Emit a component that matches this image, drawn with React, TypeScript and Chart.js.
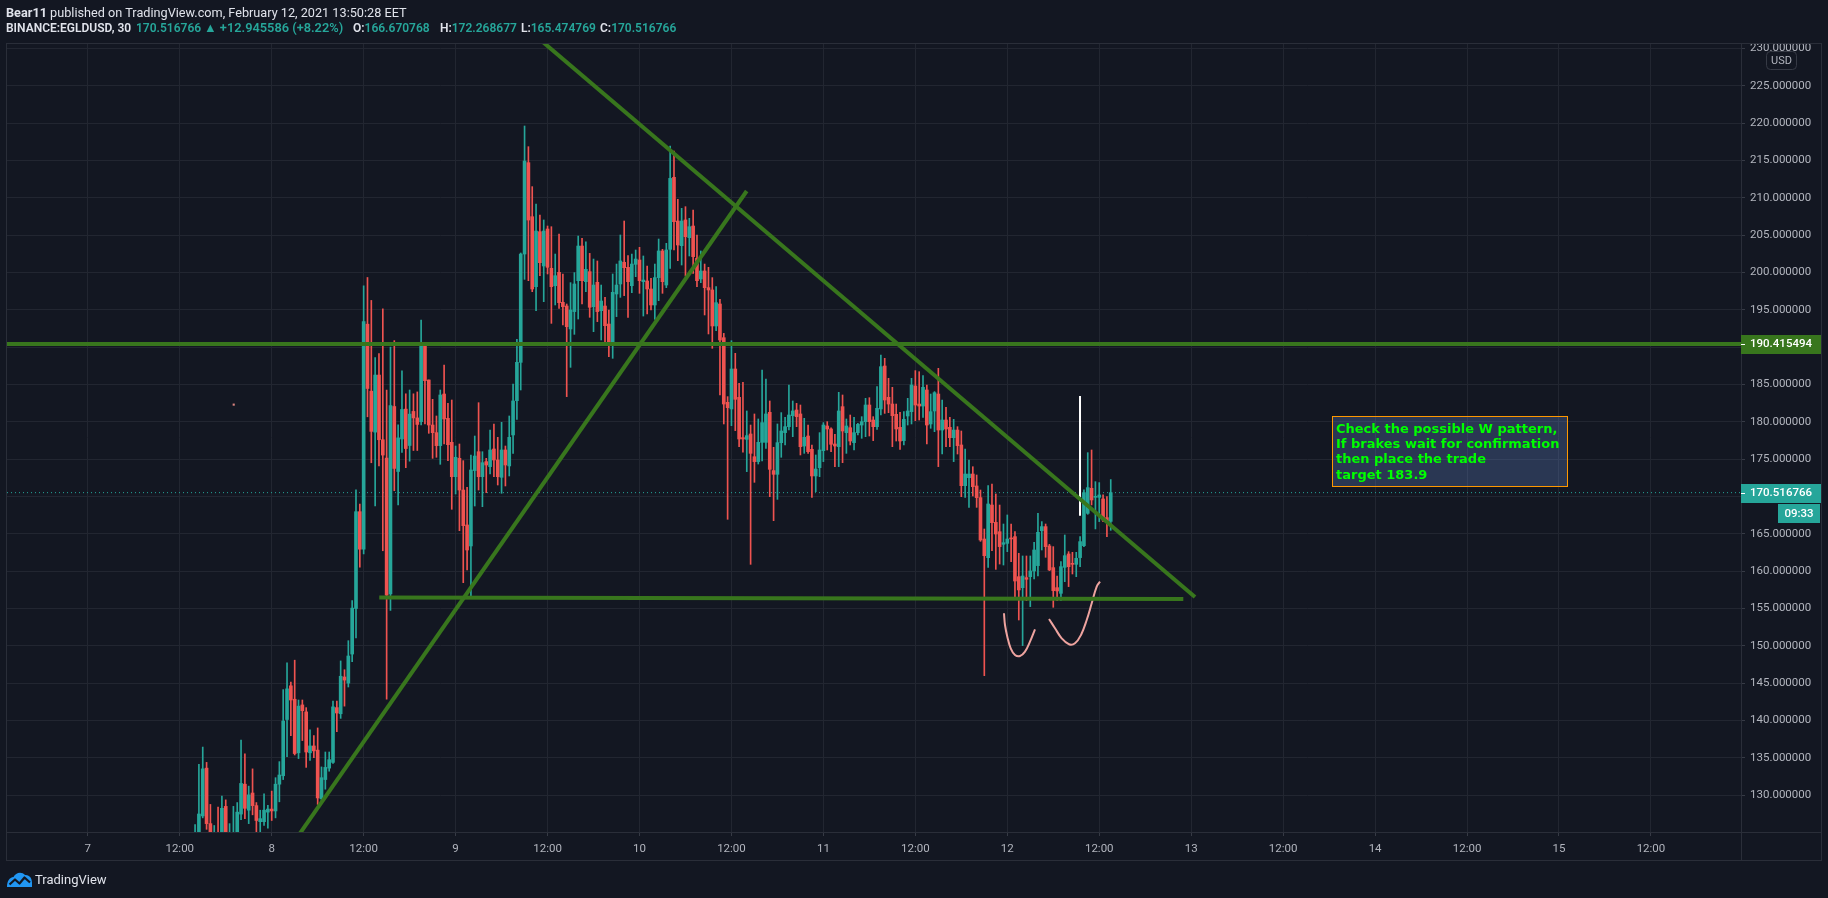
import React, { useEffect, useRef } from 'react';
import { Chart, registerables } from 'chart.js';

Chart.register(...registerables);

// ---- data ----
const FIRST_CANDLE_DAY = 7 + 14 / 24; // Feb 7, 14:00
const CANDLE_DAYS = 1 / 48; // 30 minutes

const opens = [
  122.0, 124.0, 127.24, 133.64, 126.21, 123.5, 124.7, 124.5, 128.52, 123.8,
  124.0, 124.5, 127.49, 131.49, 128.01, 130.31, 128.62, 126.47, 126.47, 127.75,
  128.16, 127.91, 131.49, 132.62, 140.15, 144.66, 142.86, 135.69, 142.10, 141.17,
  135.69, 136.61, 136.05, 129.54, 132.11, 133.64, 134.41, 141.74, 140.92, 145.84,
  145.02, 148.91, 155.01, 167.97, 162.95, 193.07, 184.10, 178.62, 186.26, 177.60,
  175.14, 156.95, 182.05, 173.35, 177.70, 181.70, 176.83, 181.39, 180.52, 180.02,
  190.28, 185.60, 179.57, 178.55, 176.81, 183.72, 180.47, 177.25, 172.66, 175.11,
  170.87, 166.19, 163.38, 173.47, 176.00, 172.66, 174.67, 174.00, 176.36, 174.89,
  172.57, 176.23, 174.09, 178.24, 182.83, 187.96, 202.46, 214.69, 207.46, 198.09,
  205.45, 200.86, 205.81, 200.55, 198.22, 200.01, 196.00, 195.50, 192.43, 194.75,
  198.89, 203.53, 198.76, 200.10, 195.41, 198.67, 194.88, 195.50, 193.09, 190.64,
  197.11, 198.45, 201.35, 200.68, 198.22, 201.08, 201.66, 198.76, 198.85, 197.78,
  195.64, 199.30, 202.87, 198.31, 203.09, 212.73, 206.88, 203.58, 207.02, 204.65,
  206.21, 201.88, 199.12, 200.19, 197.96, 197.65, 192.83, 195.77, 191.26, 182.61,
  181.72, 187.07, 183.28, 177.88, 177.65, 178.37, 175.33, 174.67, 177.25, 177.25,
  181.27, 173.47, 172.97, 177.21, 178.55, 179.35, 180.82, 181.58, 181.05, 176.76,
  178.10, 176.32, 172.75, 173.86, 176.14, 179.44, 179.04, 177.03, 176.67, 182.03,
  178.55, 179.21, 177.21, 178.55, 179.57, 180.02, 182.25, 180.24, 179.35, 181.72,
  187.47, 183.28, 182.38, 181.00, 179.26, 177.48, 180.78, 181.36, 184.79, 182.38,
  182.11, 184.26, 179.71, 181.45, 183.72, 178.90, 180.24, 179.26, 177.88, 178.90,
  176.90, 171.45, 172.52, 173.01, 171.41, 169.85, 164.31, 161.81, 168.86, 166.54,
  165.29, 163.60, 163.73, 164.45, 164.63, 159.27, 157.80, 159.14, 159.27, 160.03,
  160.75, 165.43, 165.97, 163.38, 160.48, 157.80, 157.04, 160.52, 162.31, 161.06,
  160.92, 161.82, 163.42, 167.75, 171.10, 169.89, 169.89, 169.67, 167.17, 166.670768,
];
const highs = [
  126.1, 134.15, 136.46, 134.41, 128.78, 125.96, 128.42, 129.90, 129.39, 126.21,
  128.52, 129.03, 137.38, 135.54, 131.23, 133.54, 129.03, 128.01, 130.21, 128.67,
  130.57, 132.36, 134.51, 144.15, 147.73, 145.17, 148.09, 142.76, 142.76, 141.74,
  138.77, 138.00, 139.02, 133.80, 135.80, 135.80, 142.61, 142.61, 147.99, 146.81,
  150.70, 156.08, 170.89, 168.99, 198.19, 199.32, 196.25, 188.61, 189.12, 195.12,
  184.26, 189.99, 190.87, 179.60, 186.82, 183.75, 184.26, 183.75, 184.00, 193.63,
  190.51, 185.60, 183.01, 180.78, 184.26, 187.61, 182.47, 182.92, 176.76, 177.03,
  174.80, 171.23, 175.56, 178.10, 182.56, 176.00, 175.11, 178.91, 179.71, 177.92,
  179.93, 176.76, 180.78, 185.06, 191.04, 202.60, 219.60, 216.83, 211.48, 209.16,
  207.68, 207.02, 206.21, 206.12, 202.46, 205.14, 199.79, 195.77, 198.63, 199.97,
  204.87, 204.56, 204.11, 202.55, 201.79, 201.53, 198.31, 196.66, 194.97, 199.79,
  201.12, 205.01, 206.88, 202.24, 202.46, 203.00, 203.36, 202.20, 200.86, 199.21,
  201.12, 204.47, 203.09, 203.89, 216.92, 216.25, 209.78, 208.58, 208.80, 207.24,
  208.35, 205.01, 202.87, 201.12, 200.68, 199.30, 198.09, 196.40, 191.84, 183.37,
  190.86, 189.17, 185.15, 185.28, 181.45, 179.57, 181.05, 180.38, 186.94, 185.73,
  182.79, 176.59, 179.71, 181.23, 180.60, 184.93, 182.79, 182.47, 182.25, 180.47,
  179.57, 176.90, 175.56, 178.55, 179.89, 180.02, 179.21, 178.33, 183.95, 183.59,
  180.38, 180.91, 180.60, 179.80, 180.69, 183.14, 183.23, 180.69, 184.70, 188.94,
  188.50, 185.82, 184.62, 182.38, 181.27, 181.36, 183.14, 185.82, 186.85, 186.71,
  186.18, 184.93, 183.72, 184.04, 187.16, 182.92, 181.94, 180.60, 180.33, 179.35,
  178.77, 176.36, 174.89, 173.99, 172.88, 170.87, 165.65, 171.45, 171.67, 170.34,
  168.86, 166.32, 167.53, 166.32, 165.30, 162.40, 162.04, 162.04, 162.04, 163.87,
  167.75, 166.64, 166.32, 163.60, 163.29, 159.36, 161.28, 164.85, 162.62, 162.53,
  162.53, 164.63, 170.88, 175.87, 176.23, 171.99, 171.86, 170.21, 169.98, 172.268677,
];
const lows = [
  121.5, 123.5, 126.98, 125.45, 123.8, 122.8, 122.5, 124.0, 124.0, 123.0,
  123.5, 124.0, 126.73, 126.88, 126.21, 127.39, 124.5, 124.8, 125.96, 125.60,
  126.63, 126.98, 129.13, 132.11, 135.18, 138.00, 135.40, 134.92, 137.33, 133.74,
  134.67, 135.03, 128.78, 129.13, 130.82, 133.23, 134.26, 138.51, 140.30, 141.94,
  144.50, 147.88, 151.06, 160.54, 162.33, 180.67, 174.52, 168.74, 174.11, 162.74,
  142.86, 154.75, 170.78, 168.89, 175.91, 173.86, 174.73, 176.16, 176.16, 179.57,
  179.71, 178.46, 175.11, 175.25, 174.31, 177.03, 174.80, 168.29, 170.34, 165.43,
  158.47, 160.16, 156.60, 168.73, 170.87, 168.64, 170.52, 173.01, 172.66, 171.54,
  170.43, 171.41, 172.75, 175.78, 180.33, 184.26, 199.07, 198.89, 197.42, 194.88,
  199.56, 196.08, 199.79, 193.18, 195.64, 195.19, 192.96, 183.37, 187.29, 191.71,
  193.76, 195.77, 197.42, 193.99, 192.07, 193.41, 190.95, 190.64, 188.72, 188.50,
  194.08, 196.66, 196.89, 193.99, 197.29, 199.43, 197.20, 194.16, 194.43, 194.97,
  193.72, 196.22, 197.20, 197.96, 200.55, 203.00, 201.57, 200.99, 199.52, 202.20,
  199.88, 198.09, 198.63, 194.30, 191.76, 189.84, 192.20, 183.59, 179.71, 166.95,
  179.48, 178.82, 176.67, 175.92, 173.33, 160.92, 171.90, 174.35, 174.76, 176.45,
  169.98, 166.77, 169.62, 175.25, 176.90, 178.91, 178.01, 179.35, 175.56, 175.78,
  175.78, 169.89, 170.65, 172.66, 174.67, 176.23, 176.00, 174.00, 174.00, 174.53,
  175.78, 176.90, 176.23, 178.24, 177.79, 178.01, 178.10, 177.48, 178.99, 180.91,
  181.13, 181.22, 176.67, 177.43, 176.32, 176.90, 179.57, 179.71, 180.15, 180.24,
  180.60, 177.03, 179.13, 178.68, 174.00, 175.69, 176.67, 176.67, 174.67, 175.69,
  169.98, 169.89, 168.55, 170.07, 168.55, 164.00, 146.02, 160.52, 162.75, 160.25,
  160.96, 160.83, 162.62, 161.28, 156.51, 153.47, 150.04, 156.06, 155.26, 158.96,
  159.36, 162.84, 161.86, 160.08, 155.17, 156.06, 156.06, 158.60, 157.94, 159.63,
  159.27, 160.61, 163.29, 167.62, 168.87, 165.66, 166.64, 166.64, 164.63, 165.474769,
];
const closes = [
  124.5, 127.5, 133.54, 126.21, 124.5, 124.8, 122.8, 128.26, 124.6, 124.8,
  124.9, 127.75, 131.59, 128.26, 130.06, 128.62, 126.63, 126.88, 128.01, 128.16,
  127.91, 131.49, 132.72, 139.94, 144.25, 142.76, 135.59, 141.94, 141.33, 135.80,
  136.61, 135.95, 129.65, 132.36, 133.74, 134.77, 141.84, 141.02, 145.94, 145.43,
  148.65, 155.06, 167.97, 162.95, 193.43, 184.46, 178.72, 186.26, 177.60, 175.55,
  156.80, 182.16, 173.76, 177.85, 181.65, 176.42, 181.03, 180.52, 179.65, 190.28,
  185.51, 179.57, 178.55, 176.81, 183.59, 180.38, 176.94, 172.66, 175.25, 170.87,
  166.10, 162.84, 173.55, 175.42, 172.66, 174.53, 174.22, 176.23, 174.89, 172.66,
  176.23, 174.22, 177.92, 182.79, 187.96, 202.46, 214.91, 207.01, 197.78, 205.54,
  201.30, 205.54, 200.68, 198.09, 199.56, 195.95, 195.41, 192.74, 194.97, 198.45,
  203.53, 198.89, 200.41, 195.33, 198.31, 194.75, 196.17, 192.87, 190.64, 197.33,
  198.31, 201.53, 200.63, 198.76, 201.12, 201.79, 198.89, 198.98, 197.78, 195.64,
  199.30, 202.87, 198.76, 203.00, 212.59, 206.79, 203.67, 206.88, 204.78, 206.12,
  202.11, 198.89, 200.19, 197.96, 197.65, 192.83, 195.95, 190.95, 182.38, 181.89,
  187.07, 183.01, 177.70, 177.70, 178.15, 175.78, 174.67, 177.25, 179.89, 181.05,
  173.64, 172.97, 177.21, 178.77, 179.35, 180.91, 181.45, 180.69, 176.67, 177.92,
  176.00, 172.75, 173.68, 176.23, 179.57, 179.04, 176.99, 176.76, 181.45, 178.77,
  179.44, 177.43, 178.55, 179.66, 180.02, 182.25, 180.02, 179.35, 181.81, 187.38,
  182.92, 182.38, 180.82, 179.04, 177.43, 180.33, 181.45, 184.93, 182.25, 182.11,
  184.62, 179.57, 181.36, 183.90, 178.90, 180.24, 179.04, 177.88, 178.90, 176.81,
  171.45, 173.01, 173.01, 171.32, 169.85, 164.18, 162.08, 169.00, 166.50, 164.98,
  163.29, 163.82, 164.31, 164.32, 158.69, 157.49, 159.36, 158.92, 160.03, 162.84,
  165.21, 165.97, 163.29, 160.17, 157.40, 157.36, 160.61, 162.08, 160.61, 160.92,
  161.73, 163.96, 170.52, 171.19, 169.54, 169.98, 170.21, 166.86, 166.55, 170.516766,
];

const xTickValues = [7, 7.5, 8, 8.5, 9, 9.5, 10, 10.5, 11, 11.5, 12, 12.5, 13, 13.5, 14, 14.5, 15, 15.5];
const xTickLabels = ['7', '12:00', '8', '12:00', '9', '12:00', '10', '12:00', '11', '12:00', '12', '12:00', '13', '12:00', '14', '12:00', '15', '12:00'];
const yTickValues = [130, 135, 140, 145, 150, 155, 160, 165, 170, 175, 180, 185, 190, 195, 200, 205, 210, 215, 220, 225, 230];

const xRange = [6.5606, 15.9897];
const yRange = [125.09, 230.71];

const resistancePrice = 190.415494;
const lastPrice = 170.516766;
const countdownLabel = '09:33';
const currencyLabel = 'USD';

const fallingLineDays = [9.4046, 13.0207];
const fallingLinePrices = [232.31, 156.55];
const risingLineDays = [8.0995, 10.583];
const risingLinePrices = [122.99, 210.9];
const supportLineDays = [8.585, 12.957];
const supportLinePrices = [156.49, 156.28];
const markerLineDays = [12.3954, 12.3954];
const markerLinePrices = [183.46, 167.44];
const curveADays = [11.982, 11.9875, 12.0001, 12.0185, 12.0419, 12.0691, 12.0963, 12.1234, 12.1506];
const curveAPrices = [154.37, 152.8, 151.24, 149.68, 148.79, 148.65, 149.23, 150.57, 152.22];
const curveBDays = [12.2268, 12.2594, 12.2958, 12.3355, 12.3681, 12.4008, 12.4318, 12.459, 12.4862, 12.5041];
const curveBPrices = [153.61, 152.36, 151.02, 150.22, 150.35, 151.47, 153.47, 155.7, 157.94, 158.6];
const dotDays = [7.7934];
const dotPrices = [182.3];

const noteLines = ['Check the possible W pattern,', 'If brakes wait for confirmation', 'then place the trade', 'target 183.9'];
const noteFromDay = 13.767;
const noteFromPrice = 180.78;
const noteToDay = 15.045;
const noteToPrice = 171.4;

const headerAuthor = 'Bear11';
const headerPublished = ' published on TradingView.com, February 12, 2021 13:50:28 EET';
const headerSymbol = 'BINANCE:EGLDUSD, 30';
const headerChange = '▲ +12.945586 (+8.22%)';
const ohlcKeys = ['O:', 'H:', 'L:', 'C:'];

// ---- styles ----
const BG = '#131722';
const UP = '#26a69a';
const DOWN = '#ef5350';
const GREEN = '#38761d';
const PINK = '#eea39f';
const GRID = '#222631';
const BORDER = '#2a2e39';
const TEXT = '#b2b5be';

export default function App() {
  const canvasRef = useRef<HTMLCanvasElement>(null);

  useEffect(() => {
    const canvas = canvasRef.current;
    if (!canvas) return;
    document.body.style.margin = '0';
    document.body.style.background = BG;

    const times = opens.map((_, i) => FIRST_CANDLE_DAY + i * CANDLE_DAYS);
    const colors = opens.map((o, i) => (closes[i] >= o ? UP : DOWN));
    const pts = (xs: number[], ys: number[]) => xs.map((x, i) => ({ x, y: ys[i] }));

    const lineDs = (data: any, color: string, width: number, extra: any = {}) => ({
      type: 'line',
      data,
      borderColor: color,
      backgroundColor: color,
      borderWidth: width,
      pointRadius: 0,
      fill: false,
      clip: 0,
      order: 0,
      ...extra,
    });

    const overlay = {
      id: 'overlay',
      afterDatasetsDraw(chart: any) {
        const { ctx, scales } = chart;
        const x = scales.x;
        const y = scales.y;
        const l = Math.round(x.getPixelForValue(noteFromDay));
        const t = Math.round(y.getPixelForValue(noteFromPrice));
        const r = Math.round(x.getPixelForValue(noteToDay));
        const b = Math.round(y.getPixelForValue(noteToPrice));
        ctx.save();
        ctx.fillStyle = 'rgba(110,150,230,0.25)';
        ctx.fillRect(l, t, r - l, b - t);
        ctx.strokeStyle = '#ff9800';
        ctx.lineWidth = 1;
        ctx.strokeRect(l + 0.5, t + 0.5, r - l, b - t);
        ctx.font = 'bold 13px "DejaVu Sans"';
        ctx.fillStyle = '#00ff00';
        ctx.textBaseline = 'middle';
        ctx.textAlign = 'left';
        noteLines.forEach((line, i) => ctx.fillText(line, l + 4, t + 13.5 + i * 15.3));
        ctx.restore();
      },
      afterDraw(chart: any) {
        const { ctx, chartArea, scales, width } = chart;
        const y = scales.y;
        const W = width;
        ctx.save();
        ctx.strokeStyle = BORDER;
        ctx.lineWidth = 1;
        ctx.strokeRect(6.5, chartArea.top + 0.5, W - 13, 817);
        ctx.beginPath();
        ctx.moveTo(chartArea.right + 0.5, chartArea.top);
        ctx.lineTo(chartArea.right + 0.5, chartArea.top + 818);
        ctx.moveTo(6, chartArea.bottom + 0.5);
        ctx.lineTo(W - 6, chartArea.bottom + 0.5);
        ctx.stroke();

        const tagW = W - 7 - chartArea.right;
        const drawTag = (price: number, bg: string) => {
          const py = y.getPixelForValue(price);
          ctx.fillStyle = bg;
          ctx.fillRect(chartArea.right, Math.round(py) - 9, tagW, 19);
          ctx.fillStyle = '#ffffff';
          ctx.fillRect(chartArea.right, Math.round(py), 4, 1);
          ctx.font = '500 11.5px Roboto';
          ctx.textBaseline = 'middle';
          ctx.textAlign = 'left';
          ctx.fillText(price.toFixed(6), chartArea.right + 9, Math.round(py) + 0.5);
          return py;
        };
        drawTag(resistancePrice, GREEN);
        const lp = drawTag(lastPrice, UP);
        ctx.fillStyle = UP;
        ctx.fillRect(W - 50, Math.round(lp) + 11, 42, 19);
        ctx.fillStyle = '#ffffff';
        ctx.font = '500 11.5px Roboto';
        ctx.textAlign = 'center';
        ctx.fillText(countdownLabel, W - 29, Math.round(lp) + 21);
        const bx = chartArea.right + 25;
        const by = chartArea.top + 8;
        ctx.fillStyle = BG;
        ctx.strokeStyle = '#363a45';
        ctx.beginPath();
        ctx.roundRect(bx + 0.5, by + 0.5, 30, 18, 4);
        ctx.fill();
        ctx.stroke();
        ctx.fillStyle = TEXT;
        ctx.font = '11px Roboto';
        ctx.textAlign = 'center';
        ctx.fillText(currencyLabel, bx + 15.5, by + 10);
        ctx.restore();
      },
    };

    const chart = new Chart(canvas, {
      type: 'bar',
      data: {
        datasets: [
          lineDs(pts([xRange[0] - 1, xRange[1] + 1], [resistancePrice, resistancePrice]), GREEN, 4),
          lineDs(pts(fallingLineDays, fallingLinePrices), GREEN, 4),
          lineDs(pts(risingLineDays, risingLinePrices), GREEN, 4),
          lineDs(pts(supportLineDays, supportLinePrices), GREEN, 4),
          lineDs(pts(markerLineDays, markerLinePrices), '#ffffff', 2),
          lineDs(pts(curveADays, curveAPrices), PINK, 2, { tension: 0.4 }),
          lineDs(pts(curveBDays, curveBPrices), PINK, 2, { tension: 0.4 }),
          lineDs(pts(dotDays, dotPrices), '#d9837f', 0, { pointRadius: 1.5, pointStyle: 'rect', showLine: false }),
          {
            type: 'bar',
            data: times.map((t, i) => ({ x: t, y: [opens[i], closes[i]] })),
            backgroundColor: colors,
            barThickness: 3,
            minBarLength: 1,
            grouped: false,
            borderWidth: 0,
            order: 1,
          },
          {
            type: 'bar',
            data: times.map((t, i) => ({ x: t, y: [lows[i], highs[i]] })),
            backgroundColor: colors,
            barThickness: 1,
            grouped: false,
            borderWidth: 0,
            order: 2,
          },
          lineDs(pts([xRange[0], xRange[1]], [lastPrice, lastPrice]), UP, 1, { borderDash: [1, 3], order: 3 }),
        ] as any,
      },
      options: {
        responsive: false,
        animation: false,
        devicePixelRatio: 1,
        events: [],
        layout: { padding: { left: 7, right: 7, top: 43, bottom: 37 } },
        plugins: { legend: { display: false }, tooltip: { enabled: false } },
        scales: {
          x: {
            type: 'linear',
            min: xRange[0],
            max: xRange[1],
            offset: false,
            position: 'bottom',
            border: { display: false },
            grid: { color: GRID, offset: false, drawTicks: true, tickLength: 4, tickColor: '#363a45' },
            ticks: {
              autoSkip: false,
              maxRotation: 0,
              color: TEXT,
              padding: 6,
              font: { family: 'Roboto', size: 11.5 },
              callback: (_v: any, i: number) => xTickLabels[i],
            },
            afterBuildTicks: (axis: any) => {
              axis.ticks = xTickValues.map((v) => ({ value: v }));
            },
            afterFit: (axis: any) => {
              axis.height = 29;
            },
          },
          y: {
            type: 'linear',
            position: 'right',
            min: yRange[0],
            max: yRange[1],
            border: { display: false },
            grid: { color: GRID, drawTicks: true, tickLength: 4, tickColor: '#363a45' },
            ticks: {
              autoSkip: false,
              color: TEXT,
              padding: 5,
              font: { family: 'Roboto', size: 11.5 },
              callback: (v: any) => Number(v).toFixed(6),
            },
            afterBuildTicks: (axis: any) => {
              axis.ticks = yTickValues.map((v) => ({ value: v }));
            },
            afterFit: (axis: any) => {
              axis.width = 80;
            },
          },
        },
      } as any,
      plugins: [overlay],
    });
    return () => chart.destroy();
  }, []);

  const n = opens.length - 1;
  const teal = { color: UP };
  const ohlcValues = [opens[n], highs[n], lows[n], closes[n]];
  const ohlcLefts = [353, 440, 521, 600];
  const seg = (left: number): React.CSSProperties => ({ position: 'absolute', left, top: 0 });
  return (
    <div style={{ position: 'absolute', left: 0, top: 0, width: 1828, height: 898, background: BG, overflow: 'hidden' }}>
      <canvas ref={canvasRef} width={1828} height={898} style={{ position: 'absolute', left: 0, top: 0 }} />
      <div style={{ position: 'absolute', left: 6, top: 5, font: '12.7px Roboto', lineHeight: '16px', color: '#e0e3eb', whiteSpace: 'nowrap' }}>
        <b>{headerAuthor}</b>
        {headerPublished}
      </div>
      <div style={{ position: 'absolute', left: 0, top: 20, height: 16, width: 900, font: '600 12px Roboto', lineHeight: '16px', color: '#e0e3eb', whiteSpace: 'nowrap' }}>
        <span style={seg(6)}>{headerSymbol}</span>
        <span style={{ ...seg(136), ...teal }}>{closes[n].toFixed(6)}</span>
        <span style={{ ...seg(204), ...teal, fontSize: '12.8px' }}>{headerChange}</span>
        {ohlcKeys.map((k, i) => (
          <span key={k} style={seg(ohlcLefts[i])}>
            {k}
            <span style={teal}>{ohlcValues[i].toFixed(6)}</span>
          </span>
        ))}
      </div>
      <div style={{ position: 'absolute', left: 6, top: 871, display: 'flex', alignItems: 'center', gap: 2 }}>
        <svg width="27" height="17" viewBox="0 0 27 17">
          <path d="M1 16 C1 10 3.5 6.5 7.5 6 C9.5 1.5 15.5 0 19 4 C23.5 3.5 26 7.5 26 11.5 L26 16 Z" fill="#2196f3" />
          <polyline points="3.5,13.5 9,8.5 13.5,12.5 18.5,6.5 24,11.5" stroke={BG} strokeWidth="2.2" fill="none" strokeLinejoin="round" />
        </svg>
        <span style={{ font: '13px Roboto', color: '#e0e3eb' }}>TradingView</span>
      </div>
    </div>
  );
}
